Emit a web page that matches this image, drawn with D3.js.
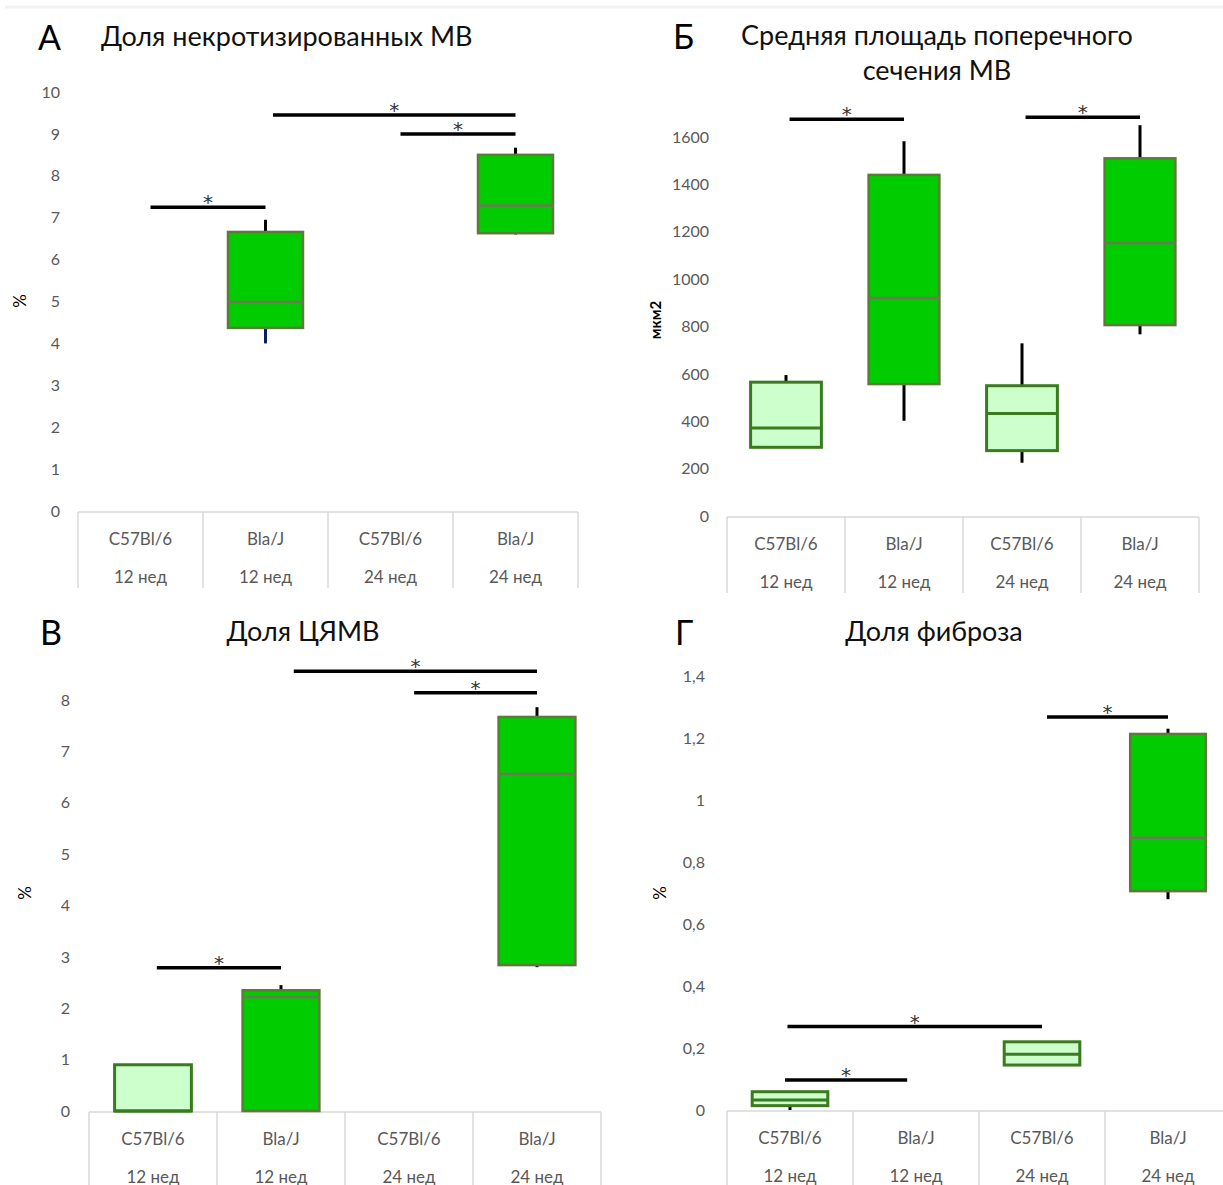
<!DOCTYPE html>
<html>
<head>
<meta charset="utf-8">
<script src="https://cdn.jsdelivr.net/npm/d3@7"></script>
<style>
body { margin: 0; background: #fff; }
svg { display: block; font-family: Lato, "Open Sans", sans-serif; }
</style>
</head>
<body>
<svg id="chart" width="1223" height="1185"></svg>
<script>
/*	Categories ---------------------------------------------------------------*/
var strains = ["C57Bl/6", "Bla/J", "C57Bl/6", "Bla/J"];
var ages = ["12 нед", "12 нед", "24 нед", "24 нед"];
var lightGroups = ["C57Bl/6"];

/*	Box values: [min, q1, median, q3, max], null = no box -------------------*/
var necroticBoxes = [null, [4.0, 4.37, 4.99, 6.66, 6.95], null, [6.6, 6.63, 7.29, 8.5, 8.67]];
var necroticTicks = [0, 1, 2, 3, 4, 5, 6, 7, 8, 9, 10];
// significance bars: [from group, to group, level]
var necroticSig = [[0.08, 1, 7.25], [1.06, 3, 9.45], [2.08, 3, 9.0]];

var areaBoxes = [[287, 290, 371, 565, 595], [402, 557, 920, 1440, 1582], [225, 276, 433, 550, 729], [767, 806, 1152, 1510, 1650]];
var areaTicks = [0, 200, 400, 600, 800, 1000, 1200, 1400, 1600];
var areaSig = [[0.03, 1, 1675], [2.03, 3, 1683]];

var cyamvBoxes = [[0, 0, 0, 0.9, 0.9], [0, 0, 2.22, 2.35, 2.45], null, [2.8, 2.84, 6.56, 7.67, 7.86]];
var cyamvTicks = [0, 1, 2, 3, 4, 5, 6, 7, 8];
var cyamvSig = [[0.03, 1, 2.79], [1.1, 3, 8.56], [2.04, 3, 8.14]];

var fibrosisBoxes = [[0, 0.014, 0.032, 0.059, 0.059], null, [0.145, 0.145, 0.18, 0.22, 0.22], [0.68, 0.706, 0.878, 1.213, 1.23]];
var fibrosisTicks = [0, 0.2, 0.4, 0.6, 0.8, 1, 1.2, 1.4];
var fibrosisSig = [[-0.04, 0.93, 0.097], [-0.02, 2, 0.269], [2.04, 3, 1.268]];

var svg = d3.select("#chart");

/*	faint strip along the top ------------------------------------------------*/
svg.append("line")
	.attr("x1", 5).attr("x2", 1223).attr("y1", 7).attr("y2", 7)
	.attr("stroke", "#f1f1f1").attr("stroke-width", 3);

var commaFormat = function(d) { return String(d).replace(".", ","); };

/*	Draw one panel ------------------------------------------------------------*/
var drawPanel = function(p) {
	var g = svg.append("g");
	var x = d3.scaleBand().domain(d3.range(strains.length)).range([p.left, p.right]);
	var bw = x.bandwidth();
	var cx = d3.scaleLinear().domain([0, strains.length - 1])
		.range([x(0) + bw / 2, x(strains.length - 1) + bw / 2]);
	var y = d3.scaleLinear().domain([0, p.ticks[p.ticks.length - 1]]).range([p.base, p.top]);

	/*	letter and title ------------------------------------------------------*/
	g.append("text")
		.attr("x", p.letterX).attr("y", p.titleY + 4)
		.attr("font-size", "34px").attr("fill", "#000")
		.text(p.letter);
	p.title.forEach(function(line, i) {
		g.append("text")
			.attr("x", p.titleX).attr("y", p.titleY + i * 35)
			.attr("text-anchor", p.titleAnchor)
			.attr("font-size", "27px").attr("fill", "#111")
			.text(line);
	});

	/*	Y axis ----------------------------------------------------------------*/
	var ya = g.append("g")
		.attr("transform", "translate(" + p.tickRight + ",0)")
		.call(d3.axisLeft(y).tickValues(p.ticks).tickSize(0).tickPadding(0).tickFormat(p.fmt));
	ya.select(".domain").remove();
	ya.attr("font-family", null).attr("font-size", null);
	ya.selectAll("text").attr("fill", "#595959").style("font-size", "16px");

	g.append("text")
		.attr("transform", "translate(" + p.yLabelX + "," + p.yLabelY + ")rotate(-90)")
		.attr("text-anchor", "middle")
		.attr("font-size", p.yLabelBold ? "15px" : "17px")
		.attr("font-weight", p.yLabelBold ? "bold" : "normal")
		.attr("fill", "#000")
		.text(p.yLabel);

	/*	category axis ---------------------------------------------------------*/
	var cat = g.append("g");
	cat.append("line")
		.attr("x1", p.left).attr("x2", p.right).attr("y1", p.base + 1).attr("y2", p.base + 1)
		.attr("stroke", "#d9d9d9").attr("stroke-width", 1.5);
	cat.selectAll(".divider")
		.data(d3.range(strains.length + 1))
		.enter().append("line")
		.attr("class", "divider")
		.attr("x1", function(d) { return p.left + d * bw; })
		.attr("x2", function(d) { return p.left + d * bw; })
		.attr("y1", p.base + 1).attr("y2", p.base + 77)
		.attr("stroke", "#d9d9d9").attr("stroke-width", 1.5);
	cat.selectAll(".strain")
		.data(strains).enter().append("text")
		.attr("x", function(d, i) { return x(i) + bw / 2; })
		.attr("y", p.base + 27)
		.attr("text-anchor", "middle").attr("dominant-baseline", "central")
		.attr("font-size", "17px").attr("fill", "#595959")
		.text(function(d) { return d; });
	cat.selectAll(".age")
		.data(ages).enter().append("text")
		.attr("x", function(d, i) { return x(i) + bw / 2; })
		.attr("y", p.base + 65)
		.attr("text-anchor", "middle").attr("dominant-baseline", "central")
		.attr("font-size", "17px").attr("fill", "#595959")
		.text(function(d) { return d; });

	/*	boxes -----------------------------------------------------------------*/
	var items = p.boxes.map(function(b, i) { return { b: b, i: i, light: lightGroups.indexOf(strains[i]) >= 0 }; })
		.filter(function(d) { return d.b; });

	// whiskers first
	items.forEach(function(d) {
		var c = cx(d.i);
		if (d.b[4] > d.b[3]) {
			g.append("line")
				.attr("x1", c).attr("x2", c).attr("y1", y(d.b[4])).attr("y2", y(d.b[3]))
				.attr("stroke", "#000").attr("stroke-width", 3);
		}
		if (d.b[1] > d.b[0]) {
			g.append("line")
				.attr("x1", c).attr("x2", c).attr("y1", y(d.b[1])).attr("y2", y(d.b[0]))
				.attr("stroke", (p.lowWhisker && p.lowWhisker[d.i]) || "#000").attr("stroke-width", 3);
		}
	});

	g.selectAll(".box")
		.data(items).enter().append("rect")
		.attr("class", "box")
		.attr("x", function(d) { return cx(d.i) - bw * 0.3; })
		.attr("width", bw * 0.6)
		.attr("y", function(d) { return y(d.b[3]); })
		.attr("height", function(d) { return y(d.b[1]) - y(d.b[3]); })
		.attr("fill", function(d) { return d.light ? "#ccffcc" : "#00cc00"; })
		.attr("stroke", function(d) { return d.light ? "#3b7a1e" : "#5e7a3a"; })
		.attr("stroke-width", function(d) { return d.light ? 3 : 2.5; });

	g.selectAll(".median")
		.data(items).enter().append("line")
		.attr("class", "median")
		.attr("x1", function(d) { return cx(d.i) - bw * 0.3; })
		.attr("x2", function(d) { return cx(d.i) + bw * 0.3; })
		.attr("y1", function(d) { return y(d.b[2]); })
		.attr("y2", function(d) { return y(d.b[2]); })
		.attr("stroke", function(d) { return d.light ? "#3b7a1e" : "#6b7a52"; })
		.attr("stroke-width", function(d) { return d.light ? 3 : 2.5; });

	/*	significance bars -----------------------------------------------------*/
	g.selectAll(".sig")
		.data(p.sig).enter().append("line")
		.attr("class", "sig")
		.attr("x1", function(d) { return cx(d[0]); })
		.attr("x2", function(d) { return cx(d[1]); })
		.attr("y1", function(d) { return y(d[2]); })
		.attr("y2", function(d) { return y(d[2]); })
		.attr("stroke", "#000").attr("stroke-width", 3.5);
	g.selectAll(".star")
		.data(p.sig).enter().append("text")
		.attr("class", "star")
		.attr("x", function(d) { return (cx(d[0]) + cx(d[1])) / 2; })
		.attr("y", function(d) { return y(d[2]) + 2; })
		.attr("text-anchor", "middle")
		.attr("font-family", "DejaVu Sans")
		.attr("font-size", "20px").attr("fill", "#333")
		.text("*");
};

drawPanel({
	letter: "А", letterX: 38, title: ["Доля некротизированных МВ"], titleX: 101, titleY: 46, titleAnchor: "start",
	boxes: necroticBoxes, ticks: necroticTicks, sig: necroticSig, fmt: commaFormat,
	left: 78, right: 578, base: 511, top: 92, tickRight: 60,
	yLabel: "%", yLabelX: 26, yLabelY: 301,
	lowWhisker: [null, "#0b1f5c", null, "#0b1f5c"]
});
drawPanel({
	letter: "Б", letterX: 673, title: ["Средняя площадь поперечного", "сечения МВ"], titleX: 937, titleY: 45, titleAnchor: "middle",
	boxes: areaBoxes, ticks: areaTicks, sig: areaSig, fmt: commaFormat,
	left: 727, right: 1199, base: 516, top: 137, tickRight: 709,
	yLabel: "мкм2", yLabelX: 661, yLabelY: 320, yLabelBold: true
});
drawPanel({
	letter: "В", letterX: 40, title: ["Доля ЦЯМВ"], titleX: 303, titleY: 641, titleAnchor: "middle",
	boxes: cyamvBoxes, ticks: cyamvTicks, sig: cyamvSig, fmt: commaFormat,
	left: 89, right: 601, base: 1111, top: 700, tickRight: 70,
	yLabel: "%", yLabelX: 31, yLabelY: 893
});
drawPanel({
	letter: "Г", letterX: 675, title: ["Доля фиброза"], titleX: 934, titleY: 641, titleAnchor: "middle",
	boxes: fibrosisBoxes, ticks: fibrosisTicks, sig: fibrosisSig, fmt: commaFormat,
	left: 727, right: 1231, base: 1110, top: 676, tickRight: 705,
	yLabel: "%", yLabelX: 666, yLabelY: 893
});
</script>
</body>
</html>
